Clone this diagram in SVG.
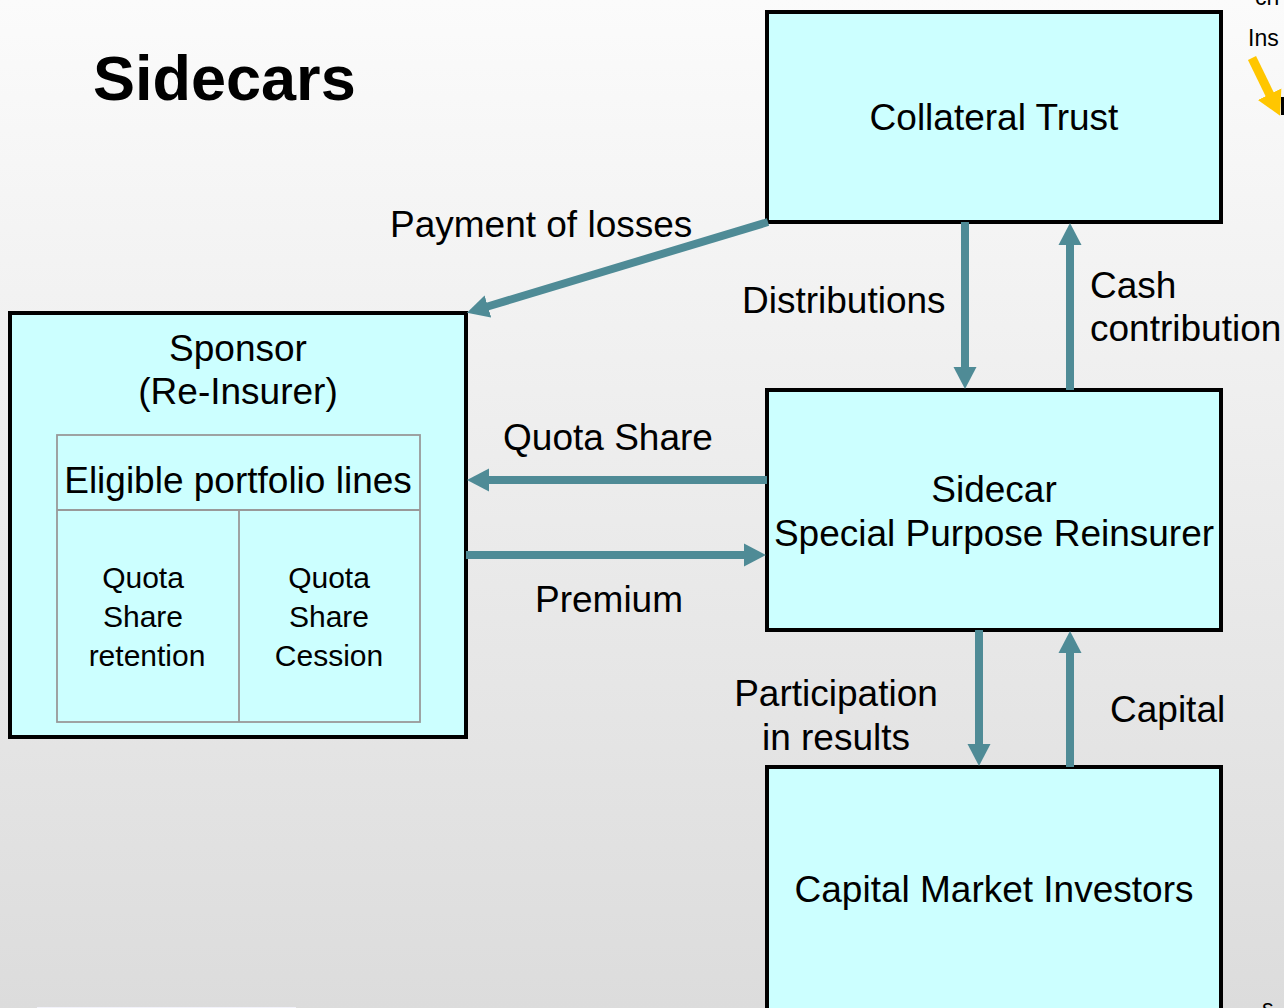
<svg xmlns="http://www.w3.org/2000/svg" width="1284" height="1008" viewBox="0 0 1284 1008">
<defs>
<linearGradient id="bg" x1="0" y1="0" x2="0" y2="1">
<stop offset="0" stop-color="#fbfbfb"/>
<stop offset="1" stop-color="#dcdcdc"/>
</linearGradient>
<marker id="ah" markerUnits="userSpaceOnUse" markerWidth="24" markerHeight="24" refX="2" refY="11.5" orient="auto" viewBox="0 0 24 23">
<path d="M0,0 L22,11.5 L0,23 Z" fill="#4f8b96"/>
</marker>
<marker id="ahy" markerUnits="userSpaceOnUse" markerWidth="28" markerHeight="28" refX="2" refY="13" orient="auto" viewBox="0 0 28 26">
<path d="M0,0 L24,13 L0,26 Z" fill="#ffc600"/>
</marker>
</defs>
<style>
.box{fill:#ccffff;stroke:#000;stroke-width:4}
.cell{fill:none;stroke:#999;stroke-width:1.8}
.t{font-family:"Liberation Sans",Arial,sans-serif;font-size:37px;fill:#000}
.c{text-anchor:middle}
.s{font-size:30px}
.conn{stroke:#4f8b96;stroke-width:8;fill:none;marker-end:url(#ah)}
</style>
<rect x="0" y="0" width="1284" height="1008" fill="url(#bg)"/>
<text x="93" y="100" class="t" style="font-size:63px;font-weight:bold">Sidecars</text>

<g id="collateral-trust">
<rect class="box" x="767" y="12" width="454" height="210"/>
<text x="994" y="130" class="t c">Collateral Trust</text>
</g>

<g id="sponsor">
<rect class="box" x="10" y="313" width="456" height="424"/>
<text x="238" y="361" class="t c">Sponsor</text>
<text x="238" y="404" class="t c">(Re-Insurer)</text>
<rect class="cell" x="57" y="435" width="363" height="287"/>
<line class="cell" x1="57" y1="510" x2="420" y2="510"/>
<line class="cell" x1="239" y1="510" x2="239" y2="722"/>
<text x="238" y="493" class="t c">Eligible portfolio lines</text>
<text x="143" y="588" class="t c s">Quota</text>
<text x="143" y="627" class="t c s">Share</text>
<text x="147" y="666" class="t c s">retention</text>
<text x="329" y="588" class="t c s">Quota</text>
<text x="329" y="627" class="t c s">Share</text>
<text x="329" y="666" class="t c s">Cession</text>
</g>

<g id="sidecar">
<rect class="box" x="767" y="390" width="454" height="240"/>
<text x="994" y="502" class="t c">Sidecar</text>
<text x="994" y="546" class="t c">Special Purpose Reinsurer</text>
</g>

<g id="investors">
<rect class="box" x="767" y="767" width="454" height="260"/>
<text x="994" y="902" class="t c">Capital Market Investors</text>
</g>

<g id="connectors">
<line class="conn" x1="768" y1="222" x2="486" y2="307"/>
<line class="conn" x1="965" y1="222" x2="965" y2="369"/>
<line class="conn" x1="1070" y1="390" x2="1070" y2="243"/>
<line class="conn" x1="767" y1="480" x2="487" y2="480"/>
<line class="conn" x1="466" y1="555" x2="746" y2="555"/>
<line class="conn" x1="979" y1="630" x2="979" y2="746"/>
<line class="conn" x1="1070" y1="767" x2="1070" y2="651"/>
<line x1="1252" y1="58" x2="1270.5" y2="96" stroke="#ffc600" stroke-width="9" marker-end="url(#ahy)"/>
</g>

<g id="labels">
<text x="390" y="237" class="t">Payment of losses</text>
<text x="742" y="313" class="t">Distributions</text>
<text x="1090" y="298" class="t">Cash</text>
<text x="1090" y="341" class="t">contribution</text>
<text x="608" y="450" class="t c">Quota Share</text>
<text x="609" y="612" class="t c">Premium</text>
<text x="836" y="706" class="t c">Participation</text>
<text x="836" y="750" class="t c">in results</text>
<text x="1110" y="722" class="t">Capital</text>
</g>

<text x="1255" y="5" class="t" style="font-size:23px">ch</text>
<text x="1248" y="46" class="t" style="font-size:23px">Ins</text>
<rect x="1281" y="97" width="3" height="18" fill="#000"/>
<rect x="37" y="1007" width="259" height="2" fill="#f2f2fa"/>
<text x="1262" y="1016" class="t" style="font-size:23px">s</text>
</svg>
